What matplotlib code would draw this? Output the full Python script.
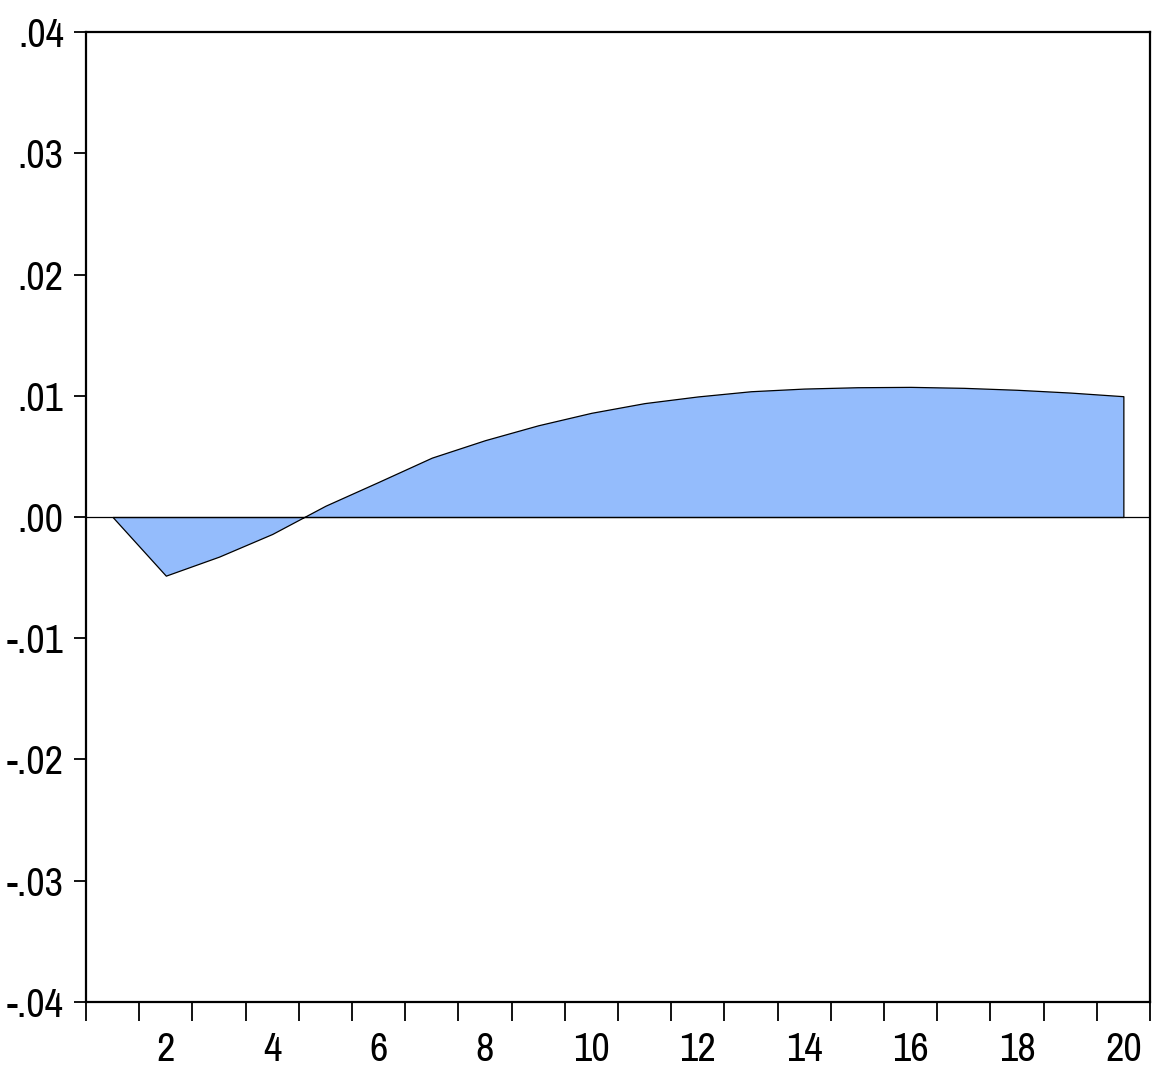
import numpy as np
import matplotlib
matplotlib.use("Agg")
import matplotlib.pyplot as plt
from matplotlib.ticker import FuncFormatter, FixedLocator

# impulse response, periods 1..20
periods = np.arange(1, 21)
response = [0.0, -0.00484, -0.00327, -0.00140, 0.00093, 0.0029, 0.0049, 0.00634,
            0.00757, 0.0086, 0.0094, 0.00995, 0.01038, 0.0106, 0.01071, 0.01074,
            0.01066, 0.0105, 0.01027, 0.00997]
ytick_vals = [-0.04, -0.03, -0.02, -0.01, 0.0, 0.01, 0.02, 0.03, 0.04]
xlabel_periods = [2, 4, 6, 8, 10, 12, 14, 16, 18, 20]

plt.rcParams['font.family'] = ['Archivo Narrow', 'DejaVu Sans']

fig = plt.figure(figsize=(11.61, 10.77), dpi=100)
ax = fig.add_axes([0.0741, 0.0699, 0.9164, 0.9001])

ax.fill_between(periods, response, 0, facecolor='#94bcfc', edgecolor='black', linewidth=0.9)
ax.axhline(0, color='black', linewidth=0.9)

ax.set_xlim(0.5, 20.5)
ax.set_ylim(-0.04, 0.04)

def fmt(v, pos):
    s = '%.2f' % v
    s = s.replace('0.', '.')
    if s == '-.00':
        s = '.00'
    return s

ax.yaxis.set_major_locator(FixedLocator(ytick_vals))
ax.yaxis.set_major_formatter(FuncFormatter(fmt))
ax.tick_params(axis='y', direction='out', length=9, width=1.3, labelsize=29, pad=7)

# boundary ticks between periods, labels on even periods
ax.set_xticks(np.arange(0.5, 21, 1))
ax.set_xticklabels([])
ax.set_xticks(xlabel_periods, minor=True)
ax.set_xticklabels([str(p) for p in xlabel_periods], minor=True)
ax.tick_params(axis='x', which='major', direction='out', length=14, width=1.3)
ax.tick_params(axis='x', which='minor', length=0, labelsize=29, pad=21)

for sp in ax.spines.values():
    sp.set_linewidth(1.6)

fig.savefig('out.png', dpi=100, facecolor='white')
